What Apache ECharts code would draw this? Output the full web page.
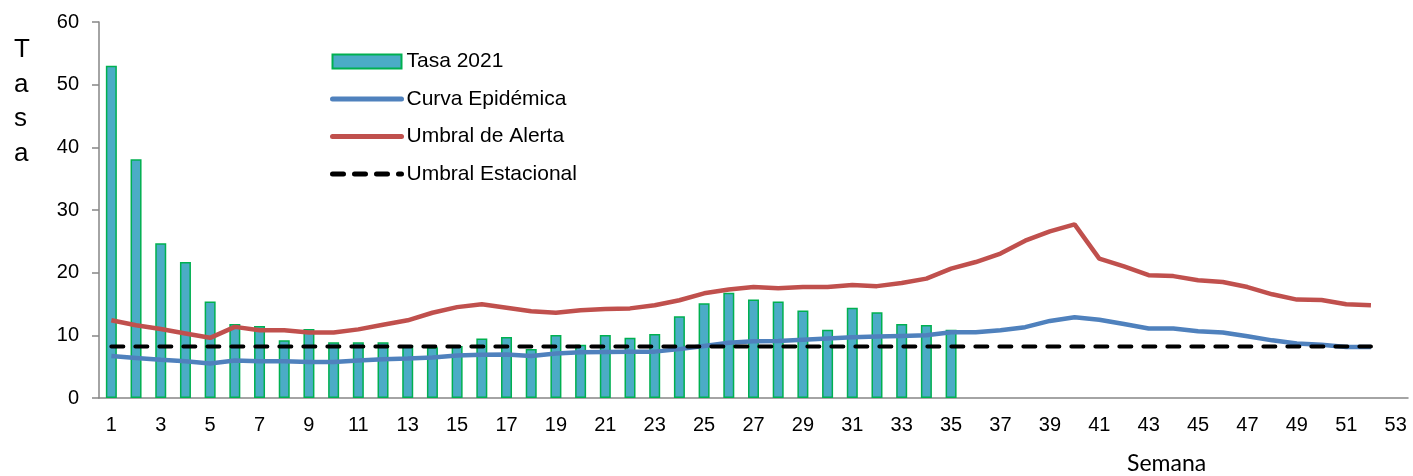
<!DOCTYPE html>
<html>
<head>
<meta charset="utf-8">
<script src="https://cdn.jsdelivr.net/npm/echarts@6/dist/echarts.min.js"></script>
<style>
    html, body { margin: 0; padding: 0; background: #fff; }
    #chart { width: 1413px; height: 476px; }
</style>
</head>
<body>
<div id="chart"></div>
<script>
    // semanas epidemiologicas (eje x)
    var semanas = ['1','2','3','4','5','6','7','8','9','10','11','12','13','14','15','16','17','18','19','20',
        '21','22','23','24','25','26','27','28','29','30','31','32','33','34','35','36','37','38','39','40',
        '41','42','43','44','45','46','47','48','49','50','51','52','53'];

    // tasa semanal 2021 (semanas 1-35)
    var tasa2021 = [53.0, 38.1, 24.7, 21.7, 15.4, 11.8, 11.5, 9.2, 11.0, 8.9,
        8.9, 8.9, 8.4, 8.1, 8.3, 9.5, 9.75, 7.8, 10.05, 8.5,
        10.05, 9.6, 10.2, 13.05, 15.1, 16.8, 15.7, 15.4, 13.95, 10.9,
        14.4, 13.7, 11.8, 11.65, 10.9];

    // curva epidemica (semanas 1-52)
    var curvaEpidemica = [6.7, 6.4, 6.1, 5.85, 5.5, 6.0, 5.85, 5.85, 5.75, 5.75,
        6.0, 6.2, 6.3, 6.45, 6.8, 6.9, 6.95, 6.7, 7.1, 7.3,
        7.35, 7.4, 7.4, 7.8, 8.3, 8.8, 9.05, 9.1, 9.3, 9.5,
        9.7, 9.8, 9.9, 10.0, 10.5, 10.5, 10.8, 11.3, 12.3, 12.9,
        12.5, 11.8, 11.1, 11.1, 10.65, 10.45, 9.85, 9.2, 8.7, 8.5,
        8.15, 8.15];

    // umbral de alerta (semanas 1-52)
    var umbralAlerta = [12.4, 11.6, 11.0, 10.3, 9.6, 11.35, 10.8, 10.8, 10.45, 10.45,
        10.95, 11.7, 12.4, 13.6, 14.5, 14.95, 14.4, 13.85, 13.6, 14.0,
        14.2, 14.3, 14.8, 15.6, 16.7, 17.3, 17.7, 17.5, 17.7, 17.7,
        18.05, 17.85, 18.35, 19.05, 20.65, 21.7, 23.05, 25.1, 26.6, 27.7,
        22.25, 21.0, 19.6, 19.45, 18.8, 18.5, 17.7, 16.55, 15.7, 15.65,
        14.95, 14.8];

    // umbral estacional (semanas 1-52)
    var umbralEstacional = [8.2, 8.2, 8.2, 8.2, 8.2, 8.2, 8.2, 8.2, 8.2, 8.2,
        8.2, 8.2, 8.2, 8.2, 8.2, 8.2, 8.2, 8.2, 8.2, 8.2,
        8.2, 8.2, 8.2, 8.2, 8.2, 8.2, 8.2, 8.2, 8.2, 8.2,
        8.2, 8.2, 8.2, 8.2, 8.2, 8.2, 8.2, 8.2, 8.2, 8.2,
        8.2, 8.2, 8.2, 8.2, 8.2, 8.2, 8.2, 8.2, 8.2, 8.2,
        8.2, 8.2];

    var fuente = '"Liberation Sans", Arial, sans-serif';

    var myChart = echarts.init(document.getElementById('chart'));
    myChart.setOption({
        animation: false,
        grid: { left: 99, right: 5, top: 22, bottom: 78 },
        legend: {
            orient: 'vertical',
            left: 330,
            top: 51,
            padding: 0,
            itemWidth: 69,
            itemHeight: 14,
            itemGap: 16.5,
            textStyle: { fontFamily: fuente, fontSize: 21, color: '#000' },
            data: [
                { name: 'Tasa 2021', icon: 'rect' },
                { name: 'Curva Epidémica', itemStyle: { opacity: 0 }, lineStyle: { width: 5, cap: 'round' } },
                { name: 'Umbral de Alerta', itemStyle: { opacity: 0 }, lineStyle: { width: 5, cap: 'round' } },
                { name: 'Umbral Estacional', itemStyle: { opacity: 0 }, lineStyle: { width: 5, type: [11, 11], cap: 'round' } }
            ]
        },
        graphic: [
            {
                type: 'text', left: 14, top: 33,
                style: { text: 'T\na\ns\na', font: '26px ' + fuente, lineHeight: 34.5, fill: '#000', align: 'center' }
            },
            {
                type: 'text', left: 1127, top: 452,
                style: { text: 'Semana', font: '23px Lato, "Open Sans", sans-serif', fill: '#000' }
            }
        ],
        xAxis: {
            type: 'category',
            data: semanas,
            boundaryGap: true,
            axisLine: { lineStyle: { color: '#868686', width: 1.5 } },
            axisTick: { interval: 0, length: 7, lineStyle: { color: '#868686', width: 1.5 } },
            axisLabel: { interval: 1, margin: 17, fontFamily: fuente, fontSize: 20, color: '#000' },
            splitLine: { show: false }
        },
        yAxis: {
            type: 'value',
            min: 0, max: 60, interval: 10,
            axisLine: { show: true, lineStyle: { color: '#868686', width: 1.5 } },
            axisTick: { show: true, length: 7, lineStyle: { color: '#868686', width: 1.5 } },
            axisLabel: { margin: 20, fontFamily: fuente, fontSize: 20, color: '#000' },
            splitLine: { show: false }
        },
        series: [
            {
                name: 'Tasa 2021',
                type: 'bar',
                barWidth: 11,
                data: tasa2021,
                itemStyle: { color: '#4BACC6', borderColor: '#00B050', borderWidth: 1.5 }
            },
            {
                name: 'Curva Epidémica',
                type: 'line',
                data: curvaEpidemica,
                symbol: 'none',
                color: '#4F81BD',
                lineStyle: { color: '#4F81BD', width: 4.5 }
            },
            {
                name: 'Umbral de Alerta',
                type: 'line',
                data: umbralAlerta,
                symbol: 'none',
                color: '#C0504D',
                lineStyle: { color: '#C0504D', width: 4.5 }
            },
            {
                name: 'Umbral Estacional',
                type: 'line',
                data: umbralEstacional,
                symbol: 'none',
                color: '#000',
                lineStyle: { color: '#000', width: 4, type: [12, 12], cap: 'round' }
            }
        ]
    });
</script>
</body>
</html>
